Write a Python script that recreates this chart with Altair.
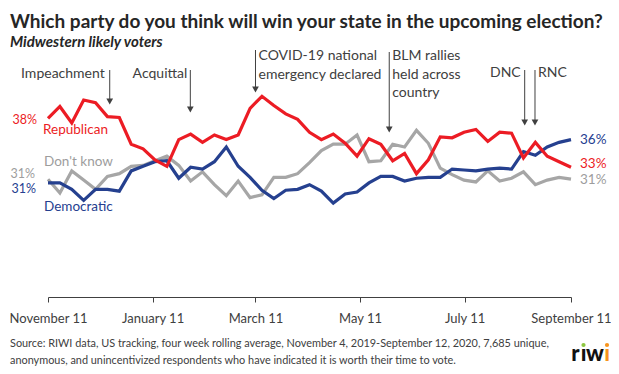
import altair as alt
import pandas as pd

# ---------------- data ----------------
start_date = "2019-11-11"
end_date = "2020-09-11"

republican = [38.0, 39.3, 37.5, 40.0, 39.7, 38.2, 38.1, 35.2, 34.7, 33.5,
              32.8, 35.7, 36.3, 35.4, 36.2, 35.7, 36.2, 39.1, 40.4, 39.4,
              38.5, 37.9, 36.5, 35.7, 36.3, 35.3, 33.9, 35.8, 35.2, 33.4,
              34.2, 32.0, 33.5, 36.0, 35.9, 36.5, 36.8, 35.5, 36.5, 36.4,
              33.7, 35.4, 33.9, 33.3, 32.7]
democratic = [31.0, 31.0, 30.3, 29.1, 30.3, 30.3, 30.1, 32.3, 32.8, 33.3,
              33.4, 31.5, 32.7, 32.5, 33.3, 34.9, 32.8, 31.6, 30.2, 29.3,
              30.2, 30.3, 30.8, 30.1, 28.8, 29.8, 30.0, 31.0, 31.7, 31.7,
              31.2, 31.5, 31.6, 31.6, 32.5, 32.4, 32.3, 32.5, 32.6, 32.5,
              34.4, 34.0, 34.9, 35.4, 35.7]
dont_know = [31.4, 29.9, 32.3, 31.3, 30.3, 31.7, 32.0, 32.8, 32.9, 33.4,
             33.9, 32.9, 31.2, 32.2, 30.8, 29.6, 31.2, 29.4, 29.7, 31.6,
             31.6, 32.0, 33.2, 34.5, 35.2, 35.2, 36.2, 33.3, 33.4, 35.2,
             34.9, 36.7, 35.3, 32.6, 31.9, 31.3, 31.1, 32.3, 31.2, 31.5,
             32.2, 30.8, 31.3, 31.6, 31.4]

series_names = ["Don't know", "Democratic", "Republican"]
series_values = [dont_know, democratic, republican]
line_colors = ["#A6A6A6", "#25408F", "#EC1C24"]
label_colors = ["#9D9D9D", "#25408F", "#EC1C24"]

event_dates = ["2019-12-17", "2020-02-02", "2020-03-11", "2020-05-28",
               "2020-08-15", "2020-08-21"]
event_labels = ["Impeachment", "Acquittal",
                "COVID-19  national\nemergency declared",
                "BLM  rallies\nheld across\ncountry", "DNC", "RNC"]

tick_dates = ["2019-11-11", "2020-01-11", "2020-03-11", "2020-05-11",
              "2020-07-11", "2020-09-11"]

title_text = "Which party do you think will win your state in the upcoming election?"
subtitle_text = "Midwestern likely voters"
source_text = ("Source: RIWI data, US tracking, four week rolling average, November 4, 2019-September 12, 2020, 7,685 unique,\n"
               "anonymous, and unincentivized respondents who have indicated it is worth their time to vote.")

# ---------------- styling / layout ----------------
TEXT = "#404040"
FONT = "Lato"
W, H = 523, 243

n = len(republican)
dates = pd.date_range(start_date, end_date, periods=n)


def dt(s):
    t = pd.Timestamp(s)
    return alt.DateTime(year=t.year, month=t.month, date=t.day)


x_scale = alt.Scale(domain=[dt(start_date), dt(end_date)], nice=False)
y_scale = alt.Scale(domain=[18.6, 45.0], zero=False, nice=False)
x_axis = alt.Axis(values=[dt(d) for d in tick_dates], format="%B %-d", title=None,
                  grid=False, labelOverlap=False, labelBound=False, labelFlush=False)

X = alt.X("date:T", scale=x_scale, axis=x_axis)
Y = alt.Y("value:Q", scale=y_scale, axis=None)

layers = []

# lines
for name, vals, col in zip(series_names, series_values, line_colors):
    d = pd.DataFrame({"date": dates, "value": vals, "series": name})
    layers.append(alt.Chart(d).mark_line(color=col, strokeWidth=3.2,
                                         strokeJoin="miter").encode(x=X, y=Y))

# series labels (position from first / last value, pixel nudges for style)
label_nudges = {
    # name: (left pct dx, dy), (name dx, dy), (right pct dx, dy)
    "Republican": ((-11, 1.5), (-5, 12), (9, -3)),
    "Don't know": ((-13, -4.8), (-4, -17), (9, 1)),
    "Democratic": ((-12, 6.2), (-4, 24), (9, 0.5)),
}
for name, vals, col in zip(series_names, series_values, label_colors):
    (ldx, ldy), (ndx, ndy), (rdx, rdy) = label_nudges[name]
    first = pd.DataFrame({"date": [dates[0]], "value": [vals[0]],
                          "pct": [f"{round(vals[0])}%"], "name": [name]})
    last = pd.DataFrame({"date": [dates[-1]], "value": [vals[-1]],
                         "pct": [f"{round(vals[-1])}%"]})
    layers.append(alt.Chart(first).mark_text(align="right", baseline="middle", dx=ldx, dy=ldy,
                                             color=col, font=FONT, fontSize=12.5)
                  .encode(x=X, y=Y, text="pct:N"))
    layers.append(alt.Chart(first).mark_text(align="left", baseline="middle", dx=ndx, dy=ndy,
                                             color=col, font=FONT, fontSize=13.5)
                  .encode(x=X, y=Y, text="name:N"))
    layers.append(alt.Chart(last).mark_text(align="left", baseline="middle", dx=rdx, dy=rdy,
                                            color=col, font=FONT, fontSize=13.5)
                  .encode(x=X, y=Y, text="pct:N"))

# event annotations: (align, dx, text top, arrow top, arrow tip) in px
event_layout = [
    ("right", -5, 13, 16, 51),
    ("right", -3, 13, 16, 59),
    ("left", 3, -5, -4, 39),
    ("left", 3, -5, -2, 79),
    ("right", -4, 12, 16, 72),
    ("left", 3, 12, 16, 72),
]
for d_, lab, (al, dx_, ty, at, tip) in zip(event_dates, event_labels, event_layout):
    ed = pd.DataFrame({"date": [pd.Timestamp(d_)], "label": [lab]})
    layers.append(alt.Chart(ed).mark_text(align=al, baseline="top", dx=dx_, color=TEXT,
                                          font=FONT, fontSize=14, lineBreak="\n",
                                          lineHeight=18.5)
                  .encode(x=X, y=alt.value(ty), text="label:N"))
    layers.append(alt.Chart(ed).mark_rule(color=TEXT, strokeWidth=1)
                  .encode(x=X, y=alt.value(at), y2=alt.value(tip - 5)))
    layers.append(alt.Chart(ed).mark_point(shape="triangle-down", filled=True, size=45,
                                           color=TEXT, opacity=1, strokeWidth=0)
                  .encode(x=X, y=alt.value(tip - 3.5)))

# source note
src = pd.DataFrame({"t": [source_text]})
layers.append(alt.Chart(src).mark_text(align="left", baseline="top", color=TEXT, font=FONT,
                                       fontSize=10.9, lineBreak="\n", lineHeight=17)
              .encode(x=alt.value(-38), y=alt.value(284), text="t:N"))

# riwi logo
logo_letters = ["r", "\u0131", "w", "\u0131"]
logo_colors = ["#111111", "#111111", "#111111", "#F7941D"]
logo_x = [527.5, 535.5, 547, 559]
for ch, c, lx in zip(logo_letters, logo_colors, logo_x):
    ld = pd.DataFrame({"t": [ch]})
    layers.append(alt.Chart(ld).mark_text(align="center", baseline="alphabetic", color=c,
                                          font=FONT, fontWeight=900, fontSize=22)
                  .encode(x=alt.value(lx), y=alt.value(307), text="t:N"))
dot_colors = ["#8DC63F", "#F7941D"]
dot_x = [535.5, 559]
for c, lx in zip(dot_colors, dot_x):
    dd = pd.DataFrame({"k": [0]})
    layers.append(alt.Chart(dd).mark_circle(color=c, size=18, opacity=1)
                  .encode(x=alt.value(lx), y=alt.value(291)))

chart = alt.layer(*layers).properties(
    width=W, height=H,
    title=alt.TitleParams(
        text=title_text, subtitle=subtitle_text, anchor="start", frame="group", dx=-38,
        font=FONT, fontSize=19, fontWeight="bold", color="#262626",
        subtitleFont=FONT, subtitleFontSize=15, subtitleFontStyle="italic",
        subtitleFontWeight="bold", subtitleColor="#262626", offset=-1, subtitlePadding=3),
    autosize=alt.AutoSizeParams(type="none"),
    padding={"left": 40, "top": 46, "right": 40, "bottom": 69},
).configure_view(strokeWidth=0).configure_axis(
    domainColor=TEXT, tickColor=TEXT, tickSize=5, domainWidth=1, tickWidth=1,
    labelFont=FONT, labelFontSize=13, labelColor=TEXT, labelPadding=10,
)

chart.save("out.html", embed_options={"renderer": "svg", "actions": False})
